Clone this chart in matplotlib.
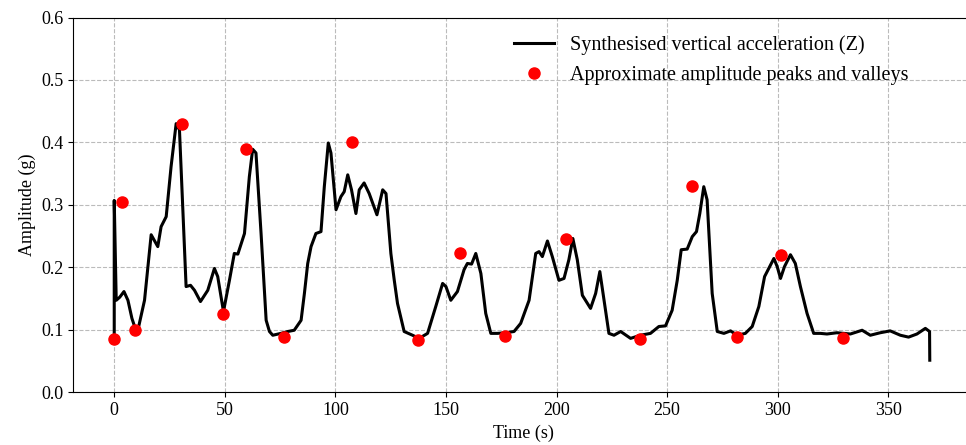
import matplotlib.pyplot as plt
import numpy as np

plt.rcParams['font.family'] = ['Liberation Serif', 'DejaVu Serif']

# synthesised vertical acceleration
t = [0, 0, 0.9, 2.5, 4.4, 6.2, 8, 9.5, 11, 13.7, 16.7, 19.7, 21.2, 23.5, 25.7,
     28, 29.5, 32.5, 34.5, 36.3, 39, 42.3, 45.3, 46.8, 49.4, 52.1, 54.3, 55.9,
     58.9, 61.1, 62.6, 64.1, 66.4, 68.7, 70.2, 71.7, 75.4, 78.5, 81.4, 84.5,
     86, 87.5, 89, 91.2, 93.5, 95, 96.8, 98, 100.3, 102.5, 104, 105.6, 107.3,
     109.3, 110.8, 113, 115.3, 118.8, 121.4, 122.9, 125.1, 126.6, 128.1, 131.1,
     134.9, 137.9, 141.7, 145.4, 148.5, 150, 152.2, 155.2, 158.2, 159.7, 161.6,
     163.5, 165.8, 168, 170.3, 173.3, 177, 180.8, 183.8, 187.6, 190.6, 192.1,
     193.6, 195.9, 198.1, 201.1, 203.4, 205.6, 207.4, 209.4, 211.7, 215.4,
     217.7, 219.6, 221.5, 223.7, 226, 229, 233.5, 238, 242.5, 246.3, 249.3,
     252.3, 254.6, 256.4, 259.1, 261.4, 263.3, 264.8, 266.6, 268.1, 270.4,
     272.7, 275.7, 278.7, 281.7, 285.4, 288.5, 291.5, 294.1, 296, 298.3, 299.8,
     301.3, 303.1, 305.8, 308, 310.3, 313.3, 316.3, 319.3, 322.3, 326.8, 332.9,
     338.2, 341.9, 346.4, 350.9, 355.5, 359.2, 363, 366.8, 368.7, 368.8]
acc = [0.085, 0.307, 0.147, 0.152, 0.161, 0.147, 0.118, 0.102, 0.104, 0.147,
       0.252, 0.233, 0.265, 0.281, 0.361, 0.43, 0.42, 0.169, 0.171, 0.163,
       0.145, 0.163, 0.198, 0.185, 0.129, 0.179, 0.222, 0.221, 0.254, 0.345,
       0.389, 0.383, 0.254, 0.115, 0.097, 0.091, 0.094, 0.097, 0.099, 0.115,
       0.158, 0.206, 0.233, 0.254, 0.257, 0.329, 0.399, 0.383, 0.292, 0.313,
       0.321, 0.348, 0.324, 0.286, 0.324, 0.335, 0.318, 0.284, 0.324, 0.318,
       0.222, 0.18, 0.142, 0.097, 0.091, 0.086, 0.094, 0.137, 0.174, 0.169,
       0.147, 0.161, 0.196, 0.206, 0.205, 0.222, 0.19, 0.126, 0.094, 0.094,
       0.095, 0.097, 0.11, 0.147, 0.222, 0.225, 0.217, 0.242, 0.217, 0.179,
       0.182, 0.212, 0.246, 0.212, 0.155, 0.134, 0.158, 0.193, 0.147, 0.094,
       0.091, 0.097, 0.086, 0.091, 0.094, 0.105, 0.106, 0.131, 0.179, 0.228,
       0.229, 0.249, 0.257, 0.286, 0.329, 0.308, 0.158, 0.097, 0.094, 0.098,
       0.091, 0.094, 0.105, 0.137, 0.185, 0.198, 0.214, 0.201, 0.182, 0.201,
       0.22, 0.206, 0.169, 0.126, 0.094, 0.094, 0.093, 0.095, 0.093, 0.099,
       0.091, 0.095, 0.098, 0.091, 0.088, 0.093, 0.102, 0.097, 0.051]

# approximate peaks and valleys
pk_t = [0, 3.6, 9.5, 30.7, 49.2, 59.6, 76.8, 107.5, 137.3, 156.3, 176.6,
        204.2, 237.6, 261.5, 281.4, 301.7, 329.7]
pk_a = [0.085, 0.305, 0.10, 0.43, 0.125, 0.39, 0.088, 0.40, 0.083, 0.223,
        0.09, 0.245, 0.085, 0.33, 0.088, 0.22, 0.087]

fig = plt.figure(figsize=(9.66, 4.45), dpi=100)
ax = fig.add_axes([0.0759, 0.119, 0.9317, 0.8416])

ax.plot(t, acc, color='black', lw=2.2, solid_joinstyle='round',
        label='Synthesised vertical acceleration (Z)')
ax.plot(pk_t, pk_a, 'o', color='red', ms=8, label='Approximate amplitude peaks and valleys')

ax.set_xlim(-18.5, 388.5)
ax.set_ylim(0, 0.6)
ax.set_yticks(np.arange(0, 0.61, 0.1))
ax.set_yticklabels(['0.0', '0.1', '0.2', '0.3', '0.4', '0.5', '0.6'])
ax.grid(True, ls='--', color='#bbbbbb', lw=0.8)
ax.tick_params(labelsize=13)
ax.set_xlabel('Time (s)', fontsize=13, labelpad=4)
ax.set_ylabel('Amplitude (g)', fontsize=13)
ax.legend(loc='upper right', bbox_to_anchor=(0.948, 1.0), frameon=False,
          fontsize=14.5, handlelength=2.0)

fig.savefig('out.png', dpi=100)
